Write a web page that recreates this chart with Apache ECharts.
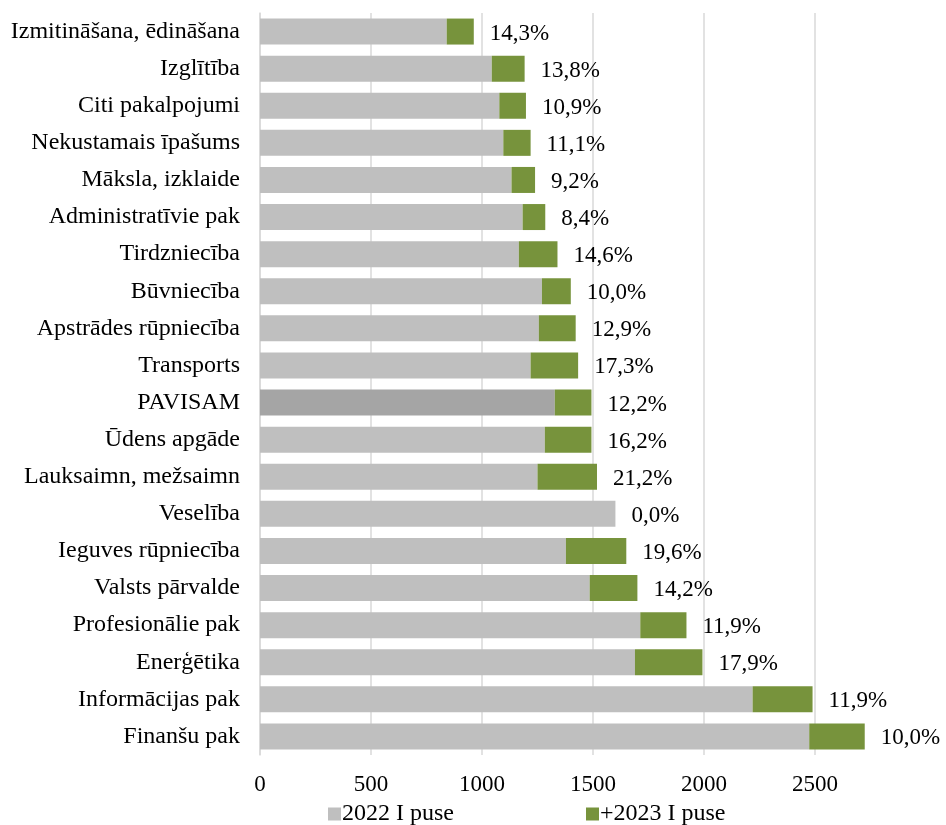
<!DOCTYPE html>
<html>
<head>
<meta charset="utf-8">
<script src="https://cdn.jsdelivr.net/npm/echarts@6/dist/echarts.min.js"></script>
<style>
  html, body { margin: 0; padding: 0; background: #fff; }
  #chart { width: 946px; height: 825px; }
</style>
</head>
<body>
<div id="chart"></div>
<script>
// top to bottom, as in the picture
const categories = [
  'Izmitināšana, ēdināšana', 'Izglītība', 'Citi pakalpojumi', 'Nekustamais īpašums',
  'Māksla, izklaide', 'Administratīvie pak', 'Tirdzniecība', 'Būvniecība',
  'Apstrādes rūpniecība', 'Transports', 'PAVISAM', 'Ūdens apgāde',
  'Lauksaimn, mežsaimn', 'Veselība', 'Ieguves rūpniecība', 'Valsts pārvalde',
  'Profesionālie pak', 'Enerģētika', 'Informācijas pak', 'Finanšu pak'
];
const base2022 = [841, 1044, 1078, 1096, 1133, 1183, 1166, 1270, 1256, 1219,
  1328, 1283, 1250, 1601, 1378, 1485, 1713, 1689, 2219, 2474];
const plus2023 = [122, 148, 120, 123, 106, 102, 174, 130, 166, 214,
  165, 210, 268, 0, 272, 215, 208, 304, 270, 250];
const growthLabels = ['14,3%', '13,8%', '10,9%', '11,1%', '9,2%', '8,4%', '14,6%', '10,0%',
  '12,9%', '17,3%', '12,2%', '16,2%', '21,2%', '0,0%', '19,6%', '14,2%',
  '11,9%', '17,9%', '11,9%', '10,0%'];
const xTicks = [0, 500, 1000, 1500, 2000, 2500];

const FONT = '"Liberation Serif", "Times New Roman", serif';
const GREY = '#BFBFBF';
const GREY_TOTAL = '#A5A5A5';
const GREEN = '#77933C';

const chart = echarts.init(document.getElementById('chart'), null, { renderer: 'canvas' });

chart.setOption({
  backgroundColor: '#fff',
  animation: false,
  grid: { left: 260, right: 20, top: 13, bottom: 70, containLabel: false },
  legend: {
    bottom: -6,
    left: 323,
    itemWidth: 13,
    itemHeight: 13,
    itemGap: 132,
    icon: 'rect',
    textStyle: { fontFamily: FONT, fontSize: 24, color: '#000', padding: [0, 0, 0, -4] },
    data: ['2022 I puse', '+2023 I puse']
  },
  xAxis: {
    type: 'value',
    min: 0,
    max: 3000,
    interval: 500,
    axisLine: { show: false },
    axisTick: { show: false },
    axisLabel: {
      color: '#000',
      fontFamily: FONT,
      fontSize: 23,
      margin: 18,
      formatter: (v) => (xTicks.indexOf(v) >= 0 ? String(v) : '')
    },
    splitLine: { show: true, showMaxLine: false, lineStyle: { color: '#D9D9D9', width: 1.5 } }
  },
  yAxis: {
    type: 'category',
    inverse: true,
    data: categories,
    axisLine: { show: true, lineStyle: { color: '#D9D9D9', width: 1.5 } },
    axisTick: { show: false },
    axisLabel: { color: '#000', fontFamily: FONT, fontSize: 24, margin: 20 }
  },
  series: [
    {
      name: '2022 I puse',
      type: 'bar',
      stack: 'total',
      barWidth: 26,
      itemStyle: { color: GREY },
      data: base2022.map((v, i) => ({
        value: v,
        itemStyle: { color: categories[i] === 'PAVISAM' ? GREY_TOTAL : GREY }
      }))
    },
    {
      name: '+2023 I puse',
      type: 'bar',
      stack: 'total',
      barWidth: 26,
      itemStyle: { color: GREEN },
      label: {
        show: true,
        position: 'right',
        distance: 16,
        offset: [0, 2],
        color: '#000',
        fontFamily: FONT,
        fontSize: 23,
        formatter: (p) => growthLabels[p.dataIndex]
      },
      data: plus2023
    }
  ]
});
</script>
</body>
</html>
